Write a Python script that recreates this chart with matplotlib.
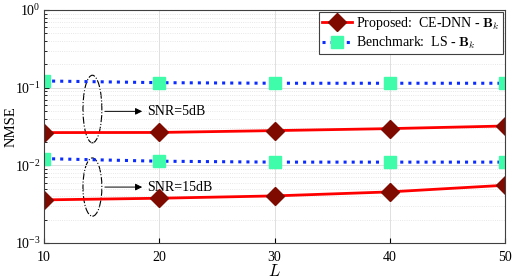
import matplotlib.pyplot as plt
from matplotlib.patches import Ellipse

plt.rcParams['font.family'] = ['Liberation Serif', 'DejaVu Serif']
plt.rcParams['mathtext.fontset'] = 'cm'

# Data
L = [10, 20, 30, 40, 50]
ce_dnn_5db = [0.0264, 0.0265, 0.0280, 0.0297, 0.0321]
ls_5db = [0.122, 0.116, 0.114, 0.114, 0.114]
ce_dnn_15db = [0.00359, 0.00377, 0.00404, 0.00455, 0.00554]
ls_15db = [0.0122, 0.0113, 0.0110, 0.0110, 0.0110]

fig = plt.figure(figsize=(5.12, 2.79), dpi=100)
ax = fig.add_axes([44 / 512, 1 - 243 / 279, 461 / 512, 233 / 279])

red_kw = dict(color="#ff0000", lw=2, marker="D", ms=9,
              markerfacecolor="#7f0a00", markeredgecolor="#7f0a00")
blue_kw = dict(color="#0b2cff", lw=2.2, ls=":", marker="s", ms=9,
               markerfacecolor="#3ffcab", markeredgecolor="#3ffcab")

ax.plot(L, ce_dnn_5db, label=r"Proposed:  CE-DNN - $\mathbf{B}_k$", **red_kw)
ax.plot(L, ls_5db, label=r"Benchmark:  LS - $\mathbf{B}_k$", **blue_kw)
ax.plot(L, ce_dnn_15db, **red_kw)
ax.plot(L, ls_15db, **blue_kw)

ax.set_yscale("log")
ax.set_xlim(10, 50)
ax.set_ylim(1e-3, 1)
ax.set_xticks(L)
ax.grid(True, which="major", color="#e0e0e0", lw=0.7)
ax.grid(True, which="minor", axis="y", color="#e0e0e0", lw=0.6, ls=":")
ax.tick_params(which="both", direction="in", labelsize=10)
ax.tick_params(axis="x", pad=6)
ax.tick_params(axis="y", pad=2.5)
for s in ax.spines.values():
    s.set_color("#404040")
ax.set_xlabel("$L$", fontsize=12)
ax.xaxis.set_label_coords(0.5, -0.09)
ax.set_ylabel("NMSE", fontsize=10.5)
ax.yaxis.set_label_coords(-0.058, 0.5)

leg = ax.legend(loc="upper right", fontsize=10, fancybox=False, framealpha=1,
                edgecolor="#404040", borderpad=0.2, handlelength=2.2,
                handletextpad=0.3, labelspacing=0.2, borderaxespad=0.15)
leg.get_frame().set_linewidth(0.8)

# SNR annotations with dashed ellipses
for cy, h, y_txt, txt in [(0.575, 0.29, 0.565, "SNR=5dB"),
                          (0.240, 0.25, 0.240, "SNR=15dB")]:
    ax.add_patch(Ellipse((0.105, cy), 0.041, h, transform=ax.transAxes,
                         fill=False, ls="-.", lw=0.8, ec="black"))
    ax.annotate("", xy=(0.219, y_txt), xytext=(0.126, y_txt),
                xycoords="axes fraction",
                arrowprops=dict(arrowstyle="-|>", color="black", lw=0.7))
    ax.text(0.224, y_txt, txt, transform=ax.transAxes, fontsize=10,
            va="center", ha="left")

fig.savefig("out.png", dpi=100)
